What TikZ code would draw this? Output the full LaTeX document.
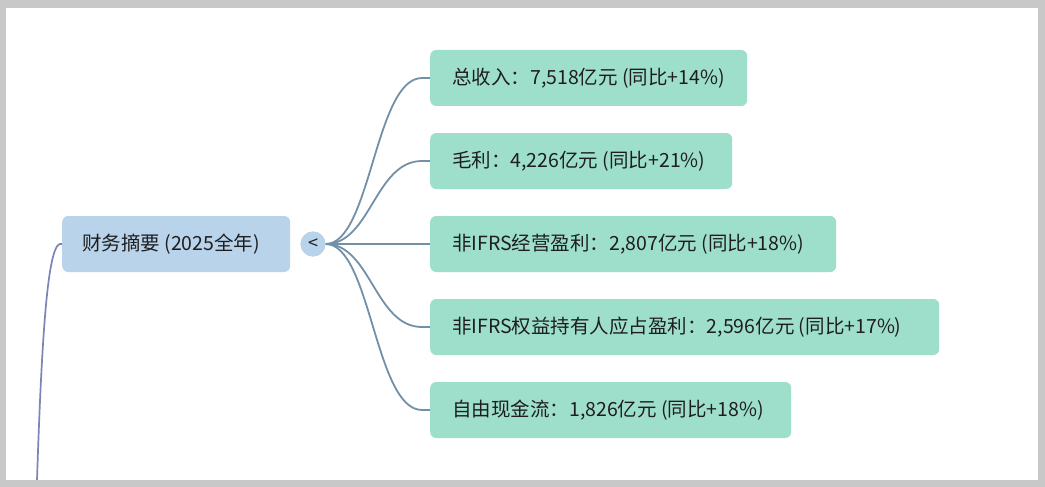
\documentclass[tikz,border=0pt]{standalone}
\usepackage{fontspec}
\setmainfont{Noto Sans CJK SC}
\definecolor{frame}{HTML}{C8C8C8}
\definecolor{rootfill}{HTML}{B9D3EA}
\definecolor{leaffill}{HTML}{9EDFCC}
\definecolor{linkc}{HTML}{7290A8}
\definecolor{leftc}{HTML}{7D84B6}
\definecolor{txt}{HTML}{1E1E1E}
\newcommand{\boxtext}[2]{\makebox[#1][l]{#2}}
\tikzset{
  rootbox/.style={fill=rootfill, rounded corners=6pt, minimum height=56pt, inner xsep=20pt, text=txt, font=\fontsize{19.5}{23}\selectfont, anchor=west},
  leafbox/.style={fill=leaffill, rounded corners=6pt, minimum height=56pt, inner xsep=22pt, text=txt, font=\fontsize{19.5}{23}\selectfont, anchor=west},
  collapse/.style={circle, fill=rootfill, minimum size=25pt, inner sep=0pt, text=txt, font=\fontsize{18}{18}\selectfont},
  link/.style={draw=linkc, line width=1.8pt},
}
\begin{document}
\begin{tikzpicture}[x=1pt,y=-1pt]
\fill[frame] (0,0) rectangle (1045,487);
\fill[white] (6,8) rectangle (1038,480);
\useasboundingbox (0,0) rectangle (1045,487);
\coordinate (lend) at (37,480);
\node[rootbox] (root) at (62,244) {\boxtext{188pt}{财务摘要 (2025全年)}};
\node[collapse] (col) at (313,244) {<};
\node[leafbox] (c1) at (430,78) {\boxtext{273pt}{总收入：7,518亿元 (同比+14\%)}};
\node[leafbox] (c2) at (430,161) {\boxtext{258pt}{毛利：4,226亿元 (同比+21\%)}};
\node[leafbox] (c3) at (430,244) {\boxtext{362pt}{非IFRS经营盈利：2,807亿元 (同比+18\%)}};
\node[leafbox] (c4) at (430,327) {\boxtext{465pt}{非IFRS权益持有人应占盈利：2,596亿元 (同比+17\%)}};
\node[leafbox] (c5) at (430,410) {\boxtext{317pt}{自由现金流：1,826亿元 (同比+18\%)}};
\foreach \c in {c1,c2,c3,c4,c5}{
  \draw[link] (col.east) .. controls ([xshift=45pt]col.east) and ([xshift=-55pt]\c.west) .. ([xshift=-8pt]\c.west) -- (\c.west);
}
\draw[draw=leftc, line width=1.7pt] (root.west) .. controls ([xshift=-14pt,yshift=6pt]root.west) and (42,330) .. (lend);
\node[collapse] at (col) {<};
\end{tikzpicture}
\end{document}
